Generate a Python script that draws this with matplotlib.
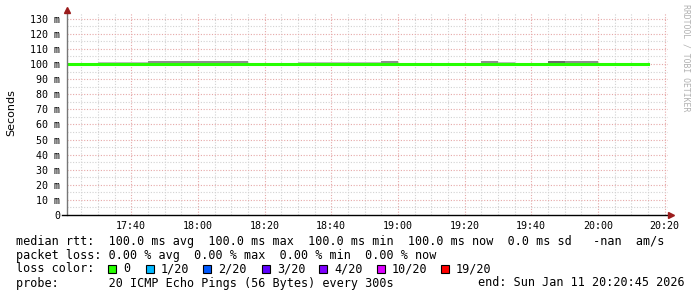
import matplotlib
matplotlib.use("Agg")
import matplotlib.pyplot as plt
from matplotlib.patches import Rectangle

W, H = 697, 297

# step starts, minutes after 17:20 (5 minute steps, last one ends 20:15)
step_start = list(range(0, 175, 5))
median_ms = [100.0] * 35
# upper edge of the smoke per step (ms)
smoke_max = [100.0, 100.0,
             101.6, 101.6, 101.6, 101.7, 101.7, 101.7, 101.7, 101.7, 101.7,
             100.0, 100.0, 100.0,
             101.6, 101.6, 101.6, 101.6, 101.6, 101.8,
             100.0, 100.0, 100.0, 100.0, 100.0,
             101.8, 101.6, 100.0, 100.0,
             101.9, 101.8, 101.8,
             100.0, 100.0, 100.0]

y_ticks = list(range(0, 131, 10))
x_ticks = [20, 40, 60, 80, 100, 120, 140, 160, 180]
x_labels = ["17:40", "18:00", "18:20", "18:40", "19:00", "19:20", "19:40", "20:00", "20:20"]

loss_labels = ["0", "1/20", "2/20", "3/20", "4/20", "10/20", "19/20"]
loss_colors = ["#26ff00", "#00b8ff", "#0059ff", "#5e00ff", "#7e00ff", "#dd00ff", "#ff0000"]

rtt_line = "median rtt:  100.0 ms avg  100.0 ms max  100.0 ms min  100.0 ms now  0.0 ms sd   -nan  am/s"
loss_line = "packet loss: 0.00 % avg  0.00 % max  0.00 % min  0.00 % now"
probe_line = "probe:       20 ICMP Echo Pings (56 Bytes) every 300s"
end_line = "end: Sun Jan 11 20:20:45 2026"

MONO = "DejaVu Sans Mono"


def fx(x):
    return x / W


def fy(y):
    return 1 - y / H


fig = plt.figure(figsize=(W / 100, H / 100), dpi=100)
ax = fig.add_axes([fx(67), fy(215), fx(601), 202 / H])

px_per_ms = 1.51
x0 = 0.75  # 17:20:45
min_per_px = 0.3
ymax = 202 / px_per_ms
ax.set_xlim(x0, x0 + 601 * min_per_px)
ax.set_ylim(0, ymax)

# grid
for m in range(5, 185, 5):
    major = m % 20 == 0
    ax.axvline(m, color="#e6a8a8" if major else "#d2d2d2", lw=0.8,
               ls=(0, (1, 1.5)), zorder=0)
for v in range(5, 134, 5):
    major = v % 10 == 0
    ax.axhline(v, color="#e6a8a8" if major else "#d2d2d2", lw=0.8,
               ls=(0, (1, 1.5)), zorder=0)

# smoke
for s, top, med in zip(step_start, smoke_max, median_ms):
    spread = top - med
    if spread <= 0:
        continue
    shade = "#6a6a6a" if spread > 1.85 else ("#8e8e8e" if spread > 1.65 else "#bdbdbd")
    ax.fill_between([s, s + 5], med, top, color=shade, lw=0, zorder=2)

# median line
xs = step_start + [step_start[-1] + 5]
ys = median_ms + [median_ms[-1]]
xs[0] = x0
ax.step(xs, ys, where="post", color="#26ff00", lw=2.2, zorder=3)

# axes lines and arrows
for sp in ax.spines.values():
    sp.set_visible(False)
ax.plot([x0, x0], [0, (215 - 11) / px_per_ms], color="#777777", lw=1,
        clip_on=False, zorder=4)
ax.plot([x0 - 5 * min_per_px, x0 + 603 * min_per_px], [0, 0], color="black",
        lw=1, clip_on=False, zorder=4)
ax.plot([x0], [(215 - 10) / px_per_ms], marker="^", ms=4, color="#9b1c1c",
        clip_on=False, zorder=5)
ax.plot([x0 + 604 * min_per_px], [0], marker=">", ms=4, color="#9b1c1c",
        clip_on=False, zorder=5)

ax.set_yticks(y_ticks)
ax.set_yticklabels(["0"] + [f"{v} m" for v in y_ticks[1:]])
ax.set_xticks(x_ticks)
ax.set_xticklabels(x_labels)
ax.tick_params(length=0, labelsize=7.2)
ax.tick_params(axis="y", pad=5)
ax.tick_params(axis="x", pad=4.5)
for lab in ax.get_xticklabels() + ax.get_yticklabels():
    lab.set_family(MONO)

fig.text(fx(11), fy(113), "Seconds", rotation=90, ha="center", va="center",
         fontsize=8, family="DejaVu Sans")
fig.text(fx(686), fy(4), "RRDTOOL / TOBI OETIKER", rotation=270, ha="center",
         va="top", fontsize=5.9, family=MONO, color="#b0b0b0")

# legend text
fs = 8.5
fig.text(fx(16), fy(241), rtt_line, ha="left", va="center", fontsize=fs, family=MONO)
fig.text(fx(16), fy(255), loss_line, ha="left", va="center", fontsize=fs, family=MONO)
fig.text(fx(16), fy(269), "loss color:", ha="left", va="center", fontsize=fs, family=MONO)
sq_x = [108, 146, 203, 262, 319, 377, 441]
for sx, lab, col in zip(sq_x, loss_labels, loss_colors):
    fig.patches.append(Rectangle((fx(sx), fy(273)), 8 / W, 8 / H, transform=fig.transFigure,
                                 facecolor=col, edgecolor="black", lw=0.8))
    fig.text(fx(sx + 15), fy(269), lab, ha="left", va="center", fontsize=fs, family=MONO)
fig.text(fx(16), fy(283), probe_line, ha="left", va="center", fontsize=fs, family=MONO)
fig.text(fx(478), fy(283), end_line, ha="left", va="center", fontsize=fs, family=MONO)

fig.savefig("out.png", dpi=100)
